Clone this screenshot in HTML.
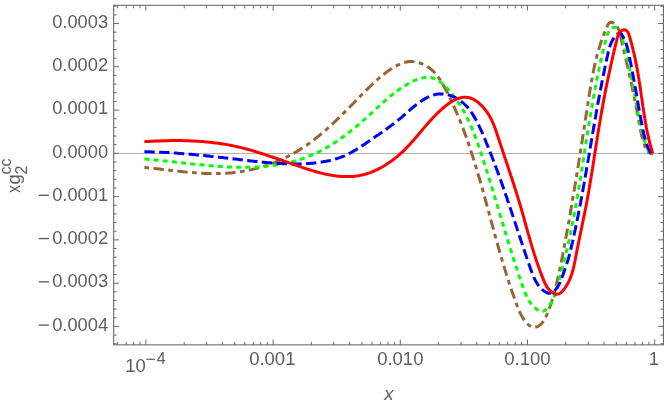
<!DOCTYPE html>
<html><head><meta charset="utf-8"><title>plot</title>
<style>html,body{margin:0;padding:0;background:#fff;overflow:hidden}svg{display:block}text{font-family:"Liberation Sans",sans-serif;fill:#5e5e5e}</style></head><body>
<svg width="664" height="407" viewBox="0 0 664 407">
<rect width="664" height="407" fill="#fff"/>
<line x1="113.65" y1="153.44" x2="663.45" y2="153.44" stroke="#8c8c8c" stroke-width="0.72"/>
<clipPath id="c"><rect x="113.65" y="5.3" width="549.8000000000001" height="339.55"/></clipPath>
<g clip-path="url(#c)" fill="none" stroke-width="3" stroke-linejoin="round">
<path d="M144.4 167.4L145.9 167.5L147.4 167.7L148.8 167.9L150.3 168.0L151.8 168.2L153.3 168.3L154.8 168.5L156.3 168.7L157.8 168.8L159.3 169.0L160.8 169.2L162.3 169.4L163.7 169.6L165.2 169.7L166.7 169.9L168.2 170.1L169.7 170.3L171.2 170.4L172.7 170.6L174.2 170.8L175.7 171.0L177.2 171.1L178.7 171.3L180.2 171.4L181.7 171.6L183.2 171.8L184.7 171.9L186.2 172.1L187.8 172.2L189.3 172.3L190.8 172.5L192.3 172.6L193.8 172.7L195.3 172.8L196.8 173.0L198.3 173.1L199.8 173.1L201.3 173.2L202.8 173.3L204.3 173.4L205.8 173.4L207.3 173.5L208.8 173.5L210.3 173.6L211.8 173.6L213.3 173.6L214.8 173.6L216.3 173.6L217.8 173.6L219.3 173.6L220.8 173.5L222.3 173.5L223.8 173.4L225.3 173.3L226.8 173.2L228.3 173.1L229.8 173.0L231.3 172.9L232.8 172.7L234.3 172.5L235.8 172.4L237.3 172.2L238.7 172.0L240.2 171.7L241.7 171.5L243.2 171.3L244.7 171.0L246.2 170.7L247.6 170.4L249.1 170.1L250.6 169.8L252.0 169.5L253.5 169.1L255.0 168.8L256.4 168.4L257.9 168.0L259.3 167.6L260.8 167.2L262.2 166.7L263.7 166.3L265.1 165.8L266.5 165.4L267.9 164.9L269.4 164.4L270.8 163.9L272.2 163.3L273.6 162.8L275.0 162.3L276.4 161.7L277.8 161.1L279.2 160.5L280.5 159.9L281.9 159.3L283.3 158.7L284.6 158.0L286.0 157.4L287.3 156.7L288.7 156.0L290.0 155.3L291.3 154.6L292.6 153.9L293.9 153.2L295.2 152.4L296.5 151.7L297.8 150.9L299.1 150.1L300.4 149.3L301.6 148.5L302.9 147.7L304.1 146.8L305.4 146.0L306.6 145.2L307.8 144.3L309.0 143.4L310.3 142.5L311.5 141.6L312.7 140.7L313.9 139.8L315.0 138.9L316.2 138.0L317.4 137.0L318.6 136.1L319.7 135.1L320.9 134.2L322.0 133.2L323.2 132.2L324.3 131.2L325.5 130.3L326.6 129.3L327.7 128.3L328.8 127.2L330.0 126.2L331.1 125.2L332.2 124.2L333.3 123.2L334.4 122.1L335.5 121.1L336.6 120.0L337.7 119.0L338.8 117.9L339.8 116.9L340.9 115.8L342.0 114.8L343.1 113.7L344.1 112.6L345.2 111.6L346.3 110.5L347.3 109.4L348.4 108.4L349.5 107.3L350.5 106.2L351.6 105.1L352.6 104.1L353.7 103.0L354.7 101.9L355.8 100.9L356.8 99.8L357.9 98.7L358.9 97.6L360.0 96.6L361.0 95.5L362.0 94.4L363.1 93.4L364.1 92.3L365.2 91.3L366.2 90.2L367.3 89.2L368.3 88.1L369.4 87.1L370.4 86.0L371.5 85.0L372.6 84.0L373.7 83.0L374.8 82.0L375.9 81.0L377.0 80.0L378.1 79.0L379.2 78.0L380.4 77.0L381.6 76.1L382.7 75.1L383.9 74.2L385.1 73.2L386.4 72.3L387.6 71.4L388.8 70.5L390.1 69.6L391.4 68.8L392.7 67.9L394.1 67.1L395.4 66.4L396.7 65.6L398.1 64.9L399.5 64.3L400.9 63.7L402.3 63.2L403.7 62.7L405.1 62.3L406.6 62.0L408.0 61.8L409.5 61.6L410.9 61.6L412.4 61.6L413.9 61.7L415.3 61.9L416.8 62.2L418.3 62.5L419.7 63.0L421.1 63.5L422.5 64.0L423.9 64.7L425.3 65.3L426.6 66.1L427.9 66.9L429.1 67.8L430.3 68.7L431.5 69.6L432.6 70.6L433.7 71.6L434.7 72.7L435.7 73.8L436.7 75.0L437.6 76.1L438.5 77.3L439.3 78.6L440.1 79.8L440.9 81.1L441.7 82.4L442.5 83.7L443.2 85.0L444.0 86.3L444.7 87.7L445.4 89.0L446.1 90.3L446.8 91.7L447.5 93.0L448.2 94.4L448.9 95.7L449.5 97.1L450.2 98.4L450.8 99.8L451.5 101.1L452.1 102.5L452.8 103.9L453.4 105.2L454.0 106.6L454.6 108.0L455.2 109.4L455.8 110.7L456.4 112.1L457.0 113.5L457.6 114.9L458.2 116.3L458.8 117.7L459.3 119.0L459.9 120.4L460.5 121.8L461.0 123.2L461.6 124.6L462.1 126.0L462.6 127.4L463.2 128.8L463.7 130.2L464.2 131.6L464.7 133.1L465.3 134.5L465.8 135.9L466.3 137.3L466.8 138.7L467.3 140.1L467.8 141.5L468.3 143.0L468.7 144.4L469.2 145.8L469.7 147.2L470.2 148.7L470.6 150.1L471.1 151.5L471.6 152.9L472.0 154.4L472.5 155.8L473.0 157.2L473.4 158.7L473.9 160.1L474.3 161.5L474.8 163.0L475.2 164.4L475.6 165.8L476.1 167.3L476.5 168.7L476.9 170.2L477.4 171.6L477.8 173.0L478.2 174.5L478.6 175.9L479.1 177.4L479.5 178.8L479.9 180.3L480.3 181.7L480.7 183.1L481.1 184.6L481.6 186.0L482.0 187.5L482.4 188.9L482.8 190.4L483.2 191.8L483.6 193.3L484.0 194.7L484.4 196.2L484.8 197.6L485.2 199.1L485.6 200.5L486.0 202.0L486.4 203.4L486.8 204.9L487.2 206.4L487.6 207.8L488.0 209.3L488.4 210.7L488.8 212.2L489.2 213.6L489.5 215.1L489.9 216.5L490.3 218.0L490.7 219.4L491.1 220.9L491.5 222.3L491.9 223.8L492.3 225.2L492.7 226.7L493.1 228.1L493.5 229.6L493.9 231.0L494.3 232.5L494.7 233.9L495.1 235.4L495.5 236.9L495.9 238.3L496.3 239.8L496.7 241.2L497.1 242.6L497.5 244.1L497.9 245.5L498.3 247.0L498.7 248.4L499.1 249.9L499.5 251.3L500.0 252.8L500.4 254.2L500.8 255.7L501.2 257.1L501.6 258.5L502.0 260.0L502.5 261.4L502.9 262.9L503.3 264.3L503.8 265.7L504.2 267.2L504.6 268.6L505.1 270.1L505.5 271.5L506.0 272.9L506.4 274.4L506.9 275.8L507.3 277.2L507.8 278.6L508.2 280.1L508.7 281.5L509.1 282.9L509.6 284.3L510.1 285.8L510.6 287.2L511.0 288.6L511.5 290.0L512.0 291.5L512.5 292.9L513.0 294.3L513.5 295.7L514.0 297.1L514.5 298.5L515.0 299.9L515.5 301.3L516.0 302.7L516.5 304.1L517.1 305.6L517.6 307.0L518.1 308.3L518.7 309.7L519.3 311.1L519.9 312.5L520.6 313.9L521.3 315.2L522.0 316.5L522.8 317.9L523.6 319.2L524.6 320.5L525.5 321.7L526.6 322.9L527.7 324.1L528.9 325.1L530.1 326.0L531.3 326.7L532.6 327.1L534.0 327.3L535.3 327.2L536.7 326.8L538.0 326.3L539.3 325.5L540.5 324.6L541.6 323.5L542.6 322.3L543.5 321.1L544.3 319.8L545.0 318.4L545.7 317.1L546.4 315.7L547.0 314.3L547.6 312.9L548.2 311.5L548.7 310.1L549.3 308.6L549.8 307.2L550.3 305.8L550.8 304.4L551.3 303.0L551.7 301.5L552.2 300.1L552.6 298.7L553.0 297.2L553.4 295.8L553.8 294.4L554.2 292.9L554.6 291.5L555.0 290.0L555.4 288.6L555.7 287.1L556.1 285.7L556.4 284.2L556.8 282.7L557.1 281.3L557.4 279.8L557.8 278.4L558.1 276.9L558.4 275.4L558.7 274.0L559.1 272.5L559.4 271.0L559.7 269.5L560.0 268.1L560.3 266.6L560.6 265.1L560.9 263.6L561.2 262.2L561.5 260.7L561.8 259.2L562.1 257.7L562.4 256.2L562.7 254.8L562.9 253.3L563.2 251.8L563.5 250.3L563.8 248.9L564.1 247.4L564.4 245.9L564.6 244.4L564.9 242.9L565.2 241.5L565.5 240.0L565.7 238.5L566.0 237.0L566.3 235.5L566.6 234.1L566.8 232.6L567.1 231.1L567.4 229.6L567.6 228.1L567.9 226.7L568.2 225.2L568.4 223.7L568.7 222.2L569.0 220.7L569.2 219.3L569.5 217.8L569.7 216.3L570.0 214.8L570.3 213.4L570.5 211.9L570.8 210.4L571.0 208.9L571.3 207.4L571.5 206.0L571.8 204.5L572.0 203.0L572.3 201.5L572.5 200.0L572.8 198.6L573.0 197.1L573.3 195.6L573.5 194.1L573.8 192.6L574.0 191.1L574.3 189.7L574.5 188.2L574.8 186.7L575.0 185.2L575.3 183.7L575.5 182.3L575.8 180.8L576.0 179.3L576.2 177.8L576.5 176.3L576.7 174.9L577.0 173.4L577.2 171.9L577.4 170.4L577.7 168.9L577.9 167.4L578.2 166.0L578.4 164.5L578.6 163.0L578.9 161.5L579.1 160.0L579.3 158.5L579.6 157.1L579.8 155.6L580.0 154.1L580.3 152.6L580.5 151.1L580.7 149.6L581.0 148.2L581.2 146.7L581.4 145.2L581.7 143.7L581.9 142.2L582.1 140.7L582.4 139.2L582.6 137.8L582.8 136.3L583.1 134.8L583.3 133.3L583.5 131.8L583.8 130.3L584.0 128.8L584.2 127.4L584.5 125.9L584.7 124.4L584.9 122.9L585.1 121.4L585.4 119.9L585.6 118.4L585.8 116.9L586.1 115.4L586.3 114.0L586.5 112.5L586.8 111.0L587.0 109.5L587.2 108.0L587.4 106.5L587.7 105.0L587.9 103.5L588.1 102.0L588.4 100.5L588.6 99.0L588.8 97.6L589.1 96.1L589.3 94.6L589.5 93.1L589.8 91.6L590.0 90.1L590.3 88.6L590.5 87.1L590.8 85.6L591.0 84.1L591.3 82.7L591.5 81.2L591.8 79.7L592.1 78.2L592.3 76.7L592.6 75.3L592.9 73.8L593.2 72.3L593.5 70.8L593.8 69.3L594.1 67.9L594.4 66.4L594.7 64.9L595.1 63.5L595.4 62.0L595.8 60.5L596.1 59.1L596.5 57.6L596.8 56.2L597.2 54.7L597.6 53.3L598.0 51.8L598.4 50.4L598.8 49.0L599.3 47.5L599.7 46.1L600.2 44.7L600.6 43.2L601.1 41.8L601.6 40.4L602.1 39.0L602.6 37.6L603.1 36.2L603.6 34.8L604.2 33.4L604.7 32.0L605.3 30.6L605.9 29.2L606.5 27.8L607.1 26.4L607.7 25.1L608.4 23.9L609.2 23.0L610.1 22.4L611.2 22.2L612.4 22.5L613.7 23.2L614.9 24.2L616.1 25.4L617.0 26.6L617.9 28.0L618.6 29.4L619.2 30.9L619.7 32.5L620.1 34.1L620.5 35.7L620.8 37.3L621.1 38.8L621.5 40.4L621.8 41.9L622.1 43.4L622.4 44.9L622.8 46.3L623.1 47.8L623.5 49.2L623.8 50.6L624.2 52.0L624.5 53.4L624.9 54.9L625.2 56.3L625.5 57.7L625.9 59.2L626.2 60.6L626.6 62.0L626.9 63.5L627.2 64.9L627.6 66.4L627.9 67.8L628.2 69.3L628.6 70.8L628.9 72.2L629.2 73.7L629.5 75.2L629.9 76.6L630.2 78.1L630.5 79.6L630.8 81.0L631.1 82.5L631.5 84.0L631.8 85.5L632.1 87.0L632.4 88.4L632.7 89.9L633.0 91.4L633.3 92.9L633.6 94.4L633.9 95.9L634.2 97.3L634.5 98.8L634.8 100.3L635.1 101.8L635.4 103.3L635.7 104.8L636.0 106.2L636.3 107.7L636.6 109.2L636.9 110.7L637.1 112.2L637.4 113.7L637.7 115.1L638.0 116.6L638.2 118.1L638.5 119.6L638.8 121.0L639.0 122.5L639.3 124.0L639.6 125.4L639.9 126.9L640.1 128.4L640.4 129.8L640.7 131.3L641.1 132.8L641.4 134.2L641.7 135.7L642.1 137.1L642.5 138.6L642.9 140.0L643.3 141.5L643.8 142.9L644.3 144.4L644.8 145.8L645.3 147.2L646.0 148.6L646.7 149.9L647.5 151.1L648.5 152.1L649.7 153.0L651.1 153.6L652.7 154.0" stroke="#996633" stroke-dasharray="4.7 4.45 10.4 4.45"/>
<path d="M144.4 159.0L145.9 159.1L147.3 159.2L148.8 159.4L150.2 159.5L151.7 159.6L153.2 159.7L154.6 159.9L156.1 160.0L157.6 160.2L159.0 160.3L160.5 160.5L162.0 160.6L163.5 160.8L165.0 160.9L166.5 161.1L167.9 161.2L169.4 161.4L170.9 161.6L172.4 161.7L173.9 161.9L175.4 162.1L176.9 162.2L178.4 162.4L179.9 162.6L181.4 162.7L182.9 162.9L184.4 163.1L185.9 163.2L187.5 163.4L189.0 163.6L190.5 163.7L192.0 163.9L193.5 164.1L195.0 164.2L196.5 164.4L198.0 164.5L199.6 164.7L201.1 164.8L202.6 165.0L204.1 165.1L205.6 165.3L207.1 165.4L208.7 165.6L210.2 165.7L211.7 165.8L213.2 165.9L214.7 166.1L216.3 166.2L217.8 166.3L219.3 166.4L220.8 166.5L222.3 166.6L223.9 166.7L225.4 166.8L226.9 166.9L228.4 166.9L229.9 167.0L231.4 167.1L232.9 167.1L234.5 167.2L236.0 167.2L237.5 167.2L239.0 167.3L240.5 167.3L242.0 167.3L243.5 167.3L245.0 167.3L246.5 167.3L248.0 167.3L249.5 167.2L251.0 167.2L252.5 167.2L254.0 167.1L255.5 167.0L257.0 167.0L258.5 166.9L260.0 166.8L261.5 166.7L263.0 166.6L264.4 166.4L265.9 166.3L267.4 166.1L268.9 166.0L270.3 165.8L271.8 165.6L273.3 165.4L274.7 165.2L276.2 165.0L277.7 164.8L279.1 164.5L280.6 164.3L282.0 164.0L283.5 163.7L284.9 163.5L286.4 163.1L287.8 162.8L289.2 162.5L290.7 162.1L292.1 161.8L293.5 161.4L294.9 161.0L296.4 160.6L297.8 160.2L299.2 159.7L300.6 159.3L302.0 158.8L303.4 158.3L304.8 157.8L306.2 157.3L307.6 156.8L308.9 156.2L310.3 155.7L311.7 155.1L313.1 154.5L314.4 153.9L315.8 153.2L317.1 152.6L318.5 151.9L319.8 151.3L321.2 150.6L322.5 149.9L323.8 149.1L325.2 148.4L326.5 147.6L327.8 146.9L329.1 146.1L330.4 145.3L331.7 144.5L333.0 143.7L334.3 142.9L335.6 142.0L336.9 141.2L338.1 140.3L339.4 139.5L340.7 138.6L341.9 137.7L343.2 136.8L344.4 135.9L345.6 135.0L346.9 134.1L348.1 133.1L349.3 132.2L350.5 131.3L351.7 130.3L352.9 129.4L354.1 128.4L355.3 127.4L356.4 126.5L357.6 125.5L358.7 124.5L359.9 123.5L361.0 122.5L362.2 121.5L363.3 120.5L364.4 119.5L365.5 118.5L366.7 117.5L367.7 116.5L368.8 115.5L369.9 114.5L371.0 113.5L372.1 112.5L373.2 111.5L374.2 110.5L375.3 109.5L376.4 108.5L377.5 107.5L378.5 106.5L379.6 105.5L380.7 104.5L381.8 103.5L382.9 102.5L384.0 101.6L385.1 100.6L386.2 99.6L387.3 98.7L388.4 97.7L389.6 96.8L390.7 95.8L391.9 94.9L393.0 94.0L394.2 93.0L395.4 92.1L396.6 91.2L397.9 90.4L399.1 89.5L400.3 88.6L401.6 87.8L402.9 86.9L404.2 86.1L405.6 85.3L406.9 84.5L408.3 83.7L409.7 82.9L411.1 82.2L412.5 81.5L413.9 80.8L415.4 80.2L416.8 79.6L418.3 79.1L419.7 78.6L421.2 78.2L422.6 77.9L424.0 77.6L425.5 77.4L426.9 77.3L428.3 77.3L429.7 77.4L431.0 77.6L432.4 78.0L433.7 78.4L435.0 78.9L436.3 79.5L437.5 80.1L438.8 80.9L440.0 81.7L441.2 82.6L442.3 83.6L443.5 84.6L444.6 85.6L445.7 86.7L446.8 87.8L447.9 88.9L448.9 90.1L450.0 91.3L451.0 92.5L452.0 93.7L452.9 94.9L453.9 96.1L454.8 97.3L455.7 98.5L456.6 99.8L457.4 101.0L458.3 102.3L459.1 103.5L459.9 104.8L460.7 106.1L461.5 107.4L462.3 108.7L463.0 110.0L463.8 111.3L464.5 112.6L465.2 113.9L465.9 115.3L466.6 116.6L467.2 117.9L467.9 119.3L468.5 120.6L469.2 122.0L469.8 123.4L470.4 124.7L471.0 126.1L471.6 127.5L472.1 128.9L472.7 130.2L473.3 131.6L473.8 133.0L474.4 134.4L474.9 135.8L475.4 137.2L476.0 138.6L476.5 140.0L477.0 141.4L477.5 142.9L478.0 144.3L478.5 145.7L479.0 147.1L479.5 148.5L479.9 150.0L480.4 151.4L480.9 152.8L481.4 154.2L481.8 155.6L482.3 157.1L482.8 158.5L483.2 159.9L483.7 161.4L484.2 162.8L484.6 164.2L485.1 165.6L485.5 167.1L486.0 168.5L486.5 169.9L486.9 171.4L487.4 172.8L487.8 174.2L488.3 175.7L488.7 177.1L489.1 178.5L489.6 180.0L490.0 181.4L490.5 182.8L490.9 184.3L491.4 185.7L491.8 187.1L492.2 188.6L492.7 190.0L493.1 191.4L493.5 192.9L494.0 194.3L494.4 195.8L494.8 197.2L495.3 198.6L495.7 200.1L496.1 201.5L496.6 202.9L497.0 204.4L497.4 205.8L497.9 207.3L498.3 208.7L498.7 210.1L499.2 211.6L499.6 213.0L500.0 214.5L500.4 215.9L500.9 217.3L501.3 218.8L501.7 220.2L502.2 221.6L502.6 223.1L503.0 224.5L503.5 226.0L503.9 227.4L504.3 228.8L504.8 230.3L505.2 231.7L505.6 233.2L506.1 234.6L506.5 236.0L506.9 237.5L507.4 238.9L507.8 240.4L508.3 241.8L508.7 243.2L509.1 244.7L509.6 246.1L510.0 247.5L510.5 249.0L510.9 250.4L511.4 251.8L511.8 253.3L512.3 254.7L512.7 256.1L513.2 257.6L513.6 259.0L514.1 260.4L514.5 261.9L515.0 263.3L515.5 264.7L515.9 266.2L516.4 267.6L516.9 269.0L517.3 270.5L517.8 271.9L518.3 273.3L518.7 274.8L519.2 276.2L519.7 277.6L520.2 279.0L520.7 280.5L521.2 281.9L521.6 283.3L522.1 284.7L522.6 286.2L523.1 287.6L523.6 289.0L524.2 290.4L524.7 291.8L525.2 293.2L525.8 294.6L526.4 295.9L527.1 297.3L527.8 298.6L528.5 299.9L529.3 301.2L530.1 302.4L531.0 303.6L531.9 304.8L532.9 305.9L534.0 307.0L535.2 308.0L536.4 309.0L537.7 309.9L539.1 310.7L540.4 311.2L541.8 311.4L543.1 311.3L544.4 310.7L545.6 309.9L546.7 308.8L547.8 307.6L548.8 306.4L549.7 305.1L550.5 303.8L551.3 302.5L552.1 301.2L552.7 299.9L553.4 298.5L554.0 297.1L554.5 295.7L555.0 294.3L555.5 292.9L556.0 291.5L556.4 290.0L556.9 288.6L557.3 287.2L557.7 285.7L558.1 284.3L558.5 282.8L558.8 281.3L559.2 279.9L559.6 278.4L560.0 277.0L560.4 275.5L560.8 274.1L561.2 272.6L561.5 271.2L561.9 269.7L562.3 268.3L562.7 266.8L563.0 265.4L563.4 263.9L563.8 262.5L564.2 261.0L564.5 259.5L564.9 258.1L565.2 256.6L565.6 255.2L565.9 253.7L566.3 252.3L566.6 250.8L567.0 249.3L567.3 247.9L567.7 246.4L568.0 245.0L568.3 243.5L568.6 242.0L569.0 240.6L569.3 239.1L569.6 237.6L569.9 236.2L570.2 234.7L570.5 233.2L570.8 231.8L571.1 230.3L571.4 228.8L571.7 227.3L572.0 225.9L572.3 224.4L572.6 222.9L572.9 221.5L573.2 220.0L573.5 218.5L573.8 217.0L574.0 215.6L574.3 214.1L574.6 212.6L574.9 211.1L575.1 209.6L575.4 208.2L575.7 206.7L575.9 205.2L576.2 203.7L576.4 202.2L576.7 200.8L577.0 199.3L577.2 197.8L577.5 196.3L577.7 194.8L578.0 193.4L578.2 191.9L578.5 190.4L578.7 188.9L579.0 187.4L579.2 185.9L579.5 184.5L579.7 183.0L579.9 181.5L580.2 180.0L580.4 178.5L580.7 177.0L580.9 175.6L581.1 174.1L581.4 172.6L581.6 171.1L581.8 169.6L582.1 168.1L582.3 166.6L582.5 165.2L582.8 163.7L583.0 162.2L583.2 160.7L583.5 159.2L583.7 157.7L583.9 156.2L584.1 154.8L584.4 153.3L584.6 151.8L584.8 150.3L585.1 148.8L585.3 147.3L585.5 145.8L585.8 144.4L586.0 142.9L586.2 141.4L586.5 139.9L586.7 138.4L586.9 136.9L587.2 135.4L587.4 134.0L587.6 132.5L587.9 131.0L588.1 129.5L588.3 128.0L588.6 126.5L588.8 125.1L589.0 123.6L589.3 122.1L589.5 120.6L589.8 119.1L590.0 117.6L590.3 116.2L590.5 114.7L590.8 113.2L591.0 111.7L591.2 110.2L591.5 108.8L591.8 107.3L592.0 105.8L592.3 104.3L592.5 102.9L592.8 101.4L593.0 99.9L593.3 98.4L593.6 97.0L593.8 95.5L594.1 94.0L594.4 92.5L594.6 91.1L594.9 89.6L595.2 88.1L595.5 86.6L595.8 85.2L596.0 83.7L596.3 82.2L596.6 80.7L596.9 79.3L597.2 77.8L597.5 76.3L597.8 74.9L598.1 73.4L598.4 71.9L598.7 70.5L599.0 69.0L599.3 67.5L599.6 66.0L600.0 64.6L600.3 63.1L600.6 61.6L600.9 60.1L601.3 58.7L601.6 57.2L601.9 55.7L602.3 54.3L602.6 52.8L603.0 51.3L603.3 49.8L603.7 48.4L604.0 46.9L604.4 45.4L604.8 43.9L605.1 42.4L605.5 41.0L605.9 39.5L606.3 38.0L606.7 36.6L607.2 35.1L607.7 33.8L608.3 32.4L609.1 31.2L609.9 30.1L611.0 29.0L612.2 28.1L613.5 27.4L614.9 27.1L616.2 27.5L617.4 28.3L618.5 29.4L619.4 30.7L620.1 32.1L620.7 33.6L621.3 35.1L621.8 36.5L622.2 38.0L622.7 39.4L623.0 40.9L623.4 42.3L623.8 43.8L624.2 45.2L624.6 46.7L624.9 48.1L625.3 49.6L625.6 51.0L626.0 52.5L626.3 53.9L626.7 55.4L627.0 56.8L627.3 58.3L627.7 59.7L628.0 61.2L628.3 62.7L628.6 64.1L628.9 65.6L629.2 67.1L629.6 68.5L629.9 70.0L630.2 71.5L630.5 72.9L630.7 74.4L631.0 75.9L631.3 77.4L631.6 78.8L631.9 80.3L632.2 81.8L632.5 83.3L632.8 84.7L633.0 86.2L633.3 87.7L633.6 89.2L633.9 90.6L634.1 92.1L634.4 93.6L634.7 95.1L635.0 96.6L635.2 98.0L635.5 99.5L635.8 101.0L636.0 102.5L636.3 104.0L636.6 105.5L636.9 106.9L637.1 108.4L637.4 109.9L637.7 111.4L638.0 112.9L638.3 114.4L638.5 115.8L638.8 117.3L639.1 118.8L639.4 120.3L639.7 121.8L640.0 123.2L640.3 124.7L640.6 126.2L640.9 127.7L641.2 129.1L641.6 130.6L641.9 132.0L642.3 133.5L642.7 134.9L643.1 136.4L643.5 137.8L643.9 139.2L644.4 140.7L644.9 142.1L645.4 143.5L645.9 144.9L646.4 146.2L647.0 147.6L647.6 149.0L648.2 150.3L648.9 151.6L649.7 152.8L650.9 153.7L652.7 154.0" stroke="#00ff00" stroke-dasharray="5 4.22"/>
<path d="M144.4 151.7L145.9 151.7L147.4 151.8L148.9 151.8L150.4 151.8L151.9 151.9L153.4 151.9L154.9 152.0L156.4 152.0L157.9 152.1L159.4 152.2L160.9 152.2L162.4 152.3L163.9 152.4L165.4 152.5L166.9 152.6L168.4 152.6L169.9 152.7L171.4 152.8L172.9 152.9L174.4 153.0L175.9 153.1L177.4 153.2L178.9 153.4L180.4 153.5L181.9 153.6L183.4 153.7L184.9 153.8L186.4 153.9L187.9 154.1L189.4 154.2L190.9 154.3L192.4 154.5L193.9 154.6L195.4 154.8L196.9 154.9L198.4 155.0L199.9 155.2L201.4 155.3L202.9 155.5L204.4 155.6L205.9 155.8L207.4 155.9L208.9 156.1L210.4 156.3L211.9 156.4L213.4 156.6L214.9 156.7L216.4 156.9L217.9 157.1L219.4 157.2L220.9 157.4L222.4 157.6L223.9 157.8L225.4 157.9L226.9 158.1L228.4 158.3L229.9 158.4L231.4 158.6L232.9 158.8L234.4 159.0L235.9 159.1L237.4 159.3L238.8 159.5L240.3 159.7L241.8 159.8L243.3 160.0L244.8 160.2L246.3 160.4L247.8 160.5L249.3 160.7L250.8 160.9L252.3 161.1L253.8 161.2L255.3 161.4L256.8 161.5L258.3 161.7L259.7 161.9L261.2 162.0L262.7 162.2L264.2 162.3L265.7 162.4L267.2 162.6L268.7 162.7L270.2 162.8L271.7 163.0L273.2 163.1L274.7 163.2L276.2 163.3L277.7 163.4L279.2 163.5L280.7 163.6L282.2 163.6L283.7 163.7L285.2 163.8L286.7 163.8L288.2 163.8L289.7 163.9L291.2 163.9L292.7 163.9L294.2 163.9L295.7 163.9L297.2 163.9L298.7 163.9L300.2 163.9L301.7 163.8L303.2 163.8L304.7 163.7L306.3 163.6L307.8 163.5L309.3 163.4L310.8 163.3L312.3 163.2L313.8 163.0L315.3 162.9L316.9 162.7L318.4 162.5L319.9 162.3L321.4 162.1L322.9 161.8L324.4 161.6L325.9 161.3L327.4 161.0L328.8 160.7L330.3 160.4L331.8 160.0L333.2 159.6L334.7 159.2L336.1 158.8L337.5 158.4L339.0 157.9L340.4 157.4L341.7 156.9L343.1 156.3L344.5 155.8L345.9 155.2L347.2 154.5L348.5 153.9L349.8 153.2L351.1 152.5L352.4 151.8L353.7 151.1L355.0 150.3L356.3 149.6L357.5 148.8L358.8 148.0L360.1 147.2L361.3 146.4L362.5 145.5L363.8 144.7L365.0 143.9L366.3 143.0L367.5 142.2L368.8 141.3L370.0 140.4L371.3 139.6L372.5 138.7L373.8 137.9L375.0 137.0L376.3 136.1L377.5 135.3L378.8 134.4L380.0 133.5L381.3 132.7L382.5 131.8L383.8 130.9L385.0 130.1L386.2 129.2L387.5 128.3L388.7 127.4L389.9 126.5L391.1 125.6L392.3 124.7L393.5 123.8L394.7 122.9L395.8 122.0L397.0 121.1L398.1 120.2L399.3 119.2L400.4 118.3L401.5 117.3L402.6 116.4L403.7 115.4L404.8 114.5L405.9 113.5L407.0 112.6L408.1 111.6L409.2 110.6L410.3 109.6L411.4 108.7L412.6 107.7L413.7 106.7L414.9 105.8L416.1 104.8L417.4 103.9L418.6 102.9L419.9 102.0L421.2 101.1L422.5 100.2L423.9 99.4L425.2 98.6L426.6 97.9L428.0 97.2L429.4 96.5L430.8 95.9L432.2 95.4L433.6 95.0L435.1 94.6L436.5 94.3L438.0 94.1L439.5 94.0L441.0 93.9L442.5 94.0L444.0 94.1L445.4 94.3L446.9 94.6L448.4 94.9L449.8 95.4L451.2 95.8L452.6 96.4L454.0 97.0L455.3 97.6L456.6 98.3L457.9 99.1L459.1 99.9L460.3 100.7L461.5 101.6L462.6 102.5L463.7 103.5L464.8 104.5L465.8 105.5L466.8 106.5L467.8 107.6L468.7 108.8L469.6 109.9L470.5 111.1L471.4 112.3L472.2 113.5L473.0 114.8L473.8 116.1L474.6 117.4L475.3 118.7L476.1 120.0L476.8 121.3L477.5 122.7L478.2 124.1L478.9 125.5L479.5 126.9L480.2 128.3L480.8 129.7L481.5 131.1L482.1 132.5L482.7 133.9L483.3 135.4L483.9 136.8L484.5 138.2L485.1 139.6L485.7 141.1L486.2 142.5L486.8 143.9L487.4 145.3L488.0 146.7L488.5 148.1L489.1 149.5L489.7 150.9L490.2 152.4L490.8 153.8L491.3 155.2L491.9 156.6L492.4 158.0L493.0 159.4L493.5 160.8L494.0 162.2L494.6 163.6L495.1 165.0L495.6 166.4L496.1 167.8L496.6 169.2L497.2 170.6L497.7 172.0L498.2 173.4L498.7 174.7L499.2 176.1L499.7 177.5L500.2 178.9L500.7 180.3L501.2 181.7L501.7 183.1L502.2 184.5L502.7 185.9L503.2 187.3L503.7 188.7L504.2 190.1L504.6 191.6L505.1 193.0L505.6 194.4L506.1 195.8L506.6 197.2L507.1 198.6L507.5 200.0L508.0 201.4L508.5 202.8L509.0 204.3L509.5 205.7L509.9 207.1L510.4 208.5L510.9 209.9L511.4 211.4L511.8 212.8L512.3 214.2L512.8 215.7L513.3 217.1L513.7 218.5L514.2 219.9L514.7 221.4L515.1 222.8L515.6 224.2L516.1 225.7L516.6 227.1L517.0 228.5L517.5 230.0L518.0 231.4L518.4 232.9L518.9 234.3L519.4 235.7L519.9 237.2L520.3 238.6L520.8 240.0L521.3 241.5L521.8 242.9L522.3 244.4L522.7 245.8L523.2 247.2L523.7 248.7L524.2 250.1L524.7 251.6L525.1 253.0L525.6 254.4L526.1 255.9L526.6 257.3L527.1 258.7L527.6 260.2L528.1 261.6L528.6 263.0L529.1 264.5L529.6 265.9L530.0 267.3L530.5 268.8L531.1 270.2L531.6 271.6L532.1 273.0L532.6 274.4L533.2 275.8L533.8 277.2L534.4 278.5L535.1 279.9L535.8 281.2L536.5 282.4L537.3 283.7L538.1 284.9L539.0 286.1L540.0 287.2L541.0 288.3L542.1 289.4L543.2 290.4L544.5 291.4L545.8 292.2L547.1 292.8L548.4 293.2L549.8 293.3L551.1 293.1L552.4 292.4L553.6 291.5L554.8 290.4L555.8 289.3L556.8 288.1L557.7 286.8L558.5 285.5L559.2 284.1L559.9 282.8L560.5 281.4L561.1 280.0L561.6 278.5L562.2 277.1L562.7 275.6L563.2 274.2L563.7 272.8L564.2 271.3L564.7 269.9L565.2 268.5L565.7 267.1L566.1 265.7L566.6 264.3L567.1 262.8L567.5 261.4L568.0 260.0L568.4 258.6L568.8 257.1L569.2 255.7L569.6 254.2L569.9 252.8L570.3 251.3L570.7 249.9L571.0 248.4L571.3 246.9L571.7 245.5L572.0 244.0L572.4 242.6L572.7 241.1L573.0 239.6L573.3 238.2L573.7 236.7L574.0 235.2L574.3 233.7L574.6 232.3L574.9 230.8L575.3 229.3L575.6 227.9L575.9 226.4L576.2 224.9L576.5 223.4L576.8 222.0L577.1 220.5L577.4 219.0L577.7 217.5L578.0 216.1L578.3 214.6L578.6 213.1L578.8 211.6L579.1 210.2L579.4 208.7L579.7 207.2L580.0 205.7L580.3 204.2L580.6 202.8L580.8 201.3L581.1 199.8L581.4 198.3L581.7 196.8L581.9 195.4L582.2 193.9L582.5 192.4L582.7 190.9L583.0 189.4L583.3 187.9L583.5 186.5L583.8 185.0L584.1 183.5L584.3 182.0L584.6 180.5L584.9 179.0L585.1 177.5L585.4 176.1L585.6 174.6L585.9 173.1L586.2 171.6L586.4 170.1L586.7 168.6L586.9 167.2L587.2 165.7L587.4 164.2L587.7 162.7L587.9 161.2L588.2 159.7L588.5 158.2L588.7 156.8L589.0 155.3L589.2 153.8L589.5 152.3L589.7 150.8L590.0 149.3L590.2 147.9L590.5 146.4L590.7 144.9L591.0 143.4L591.2 141.9L591.5 140.4L591.7 139.0L592.0 137.5L592.2 136.0L592.5 134.5L592.7 133.0L593.0 131.5L593.3 130.1L593.5 128.6L593.8 127.1L594.0 125.6L594.3 124.1L594.5 122.7L594.8 121.2L595.0 119.7L595.3 118.2L595.6 116.8L595.8 115.3L596.1 113.8L596.3 112.3L596.6 110.9L596.9 109.4L597.1 107.9L597.4 106.4L597.7 105.0L597.9 103.5L598.2 102.0L598.5 100.5L598.8 99.1L599.0 97.6L599.3 96.1L599.6 94.7L599.8 93.2L600.1 91.7L600.4 90.3L600.7 88.8L601.0 87.3L601.3 85.9L601.5 84.4L601.8 82.9L602.1 81.5L602.4 80.0L602.7 78.5L603.0 77.0L603.3 75.6L603.6 74.1L603.9 72.6L604.2 71.1L604.5 69.6L604.8 68.1L605.1 66.6L605.4 65.2L605.7 63.7L606.1 62.2L606.4 60.7L606.7 59.1L607.0 57.6L607.4 56.1L607.7 54.6L608.0 53.1L608.4 51.6L608.8 50.1L609.2 48.6L609.6 47.2L610.1 45.7L610.6 44.3L611.2 42.9L611.8 41.6L612.5 40.3L613.2 39.0L614.0 37.8L614.8 36.6L615.8 35.5L616.8 34.5L617.8 33.8L618.9 33.3L619.9 33.4L620.9 33.9L621.9 34.9L622.8 36.3L623.6 37.8L624.4 39.3L625.0 40.8L625.6 42.3L626.2 43.7L626.6 45.2L627.1 46.7L627.5 48.2L627.8 49.6L628.2 51.1L628.5 52.6L628.8 54.0L629.1 55.5L629.4 57.0L629.7 58.4L630.0 59.9L630.3 61.4L630.6 62.8L630.9 64.3L631.2 65.8L631.5 67.3L631.8 68.7L632.1 70.2L632.3 71.7L632.6 73.2L632.9 74.6L633.2 76.1L633.4 77.6L633.7 79.1L634.0 80.5L634.2 82.0L634.5 83.5L634.8 85.0L635.0 86.5L635.3 87.9L635.6 89.4L635.8 90.9L636.1 92.4L636.3 93.9L636.6 95.3L636.9 96.8L637.1 98.3L637.4 99.8L637.6 101.3L637.9 102.7L638.2 104.2L638.4 105.7L638.7 107.2L639.0 108.7L639.2 110.2L639.5 111.6L639.8 113.1L640.0 114.6L640.3 116.1L640.6 117.6L640.8 119.1L641.1 120.5L641.4 122.0L641.7 123.5L642.0 125.0L642.2 126.5L642.5 127.9L642.9 129.4L643.2 130.9L643.5 132.4L643.8 133.8L644.2 135.3L644.6 136.7L644.9 138.2L645.4 139.6L645.8 141.1L646.2 142.5L646.7 143.9L647.2 145.4L647.7 146.8L648.2 148.2L648.8 149.6L649.5 150.9L650.3 152.1L651.4 153.1L652.7 154.0" stroke="#0000fa" stroke-dasharray="10.4 4.35"/>
<path d="M144.4 141.7L145.9 141.6L147.3 141.5L148.8 141.4L150.3 141.3L151.8 141.3L153.3 141.2L154.8 141.1L156.2 141.0L157.7 141.0L159.2 140.9L160.7 140.9L162.2 140.8L163.7 140.8L165.2 140.7L166.7 140.7L168.2 140.7L169.8 140.6L171.3 140.6L172.8 140.6L174.3 140.6L175.8 140.6L177.3 140.6L178.8 140.6L180.3 140.6L181.9 140.6L183.4 140.7L184.9 140.7L186.4 140.7L187.9 140.8L189.4 140.8L191.0 140.9L192.5 141.0L194.0 141.0L195.5 141.1L197.0 141.2L198.5 141.3L200.0 141.4L201.5 141.5L203.1 141.6L204.6 141.8L206.1 141.9L207.6 142.0L209.1 142.2L210.6 142.3L212.1 142.5L213.6 142.7L215.1 142.9L216.6 143.1L218.1 143.3L219.6 143.5L221.1 143.7L222.5 143.9L224.0 144.1L225.5 144.4L227.0 144.6L228.5 144.9L229.9 145.2L231.4 145.5L232.9 145.8L234.3 146.1L235.8 146.4L237.2 146.7L238.7 147.0L240.1 147.4L241.6 147.7L243.0 148.1L244.5 148.5L245.9 148.8L247.3 149.2L248.8 149.6L250.2 150.0L251.6 150.4L253.0 150.8L254.5 151.3L255.9 151.7L257.3 152.1L258.7 152.6L260.1 153.0L261.5 153.5L263.0 153.9L264.4 154.4L265.8 154.9L267.2 155.3L268.6 155.8L270.0 156.3L271.4 156.8L272.9 157.2L274.3 157.7L275.7 158.2L277.1 158.7L278.5 159.2L279.9 159.7L281.4 160.2L282.8 160.7L284.2 161.2L285.6 161.7L287.0 162.2L288.5 162.7L289.9 163.2L291.3 163.7L292.8 164.2L294.2 164.7L295.6 165.2L297.1 165.7L298.5 166.2L300.0 166.7L301.4 167.2L302.9 167.7L304.3 168.1L305.8 168.6L307.3 169.1L308.7 169.5L310.2 170.0L311.7 170.4L313.1 170.9L314.6 171.3L316.1 171.7L317.5 172.1L319.0 172.5L320.5 172.9L322.0 173.3L323.5 173.6L324.9 174.0L326.4 174.3L327.9 174.6L329.4 174.9L330.9 175.1L332.3 175.4L333.8 175.6L335.3 175.8L336.8 176.0L338.2 176.2L339.7 176.3L341.2 176.4L342.7 176.5L344.1 176.6L345.6 176.6L347.1 176.6L348.5 176.6L350.0 176.6L351.5 176.5L352.9 176.4L354.4 176.3L355.8 176.1L357.3 175.9L358.7 175.7L360.2 175.4L361.6 175.1L363.1 174.8L364.5 174.4L365.9 174.0L367.4 173.5L368.8 173.1L370.2 172.6L371.6 172.0L373.0 171.5L374.4 170.9L375.8 170.2L377.2 169.6L378.5 168.9L379.9 168.2L381.2 167.5L382.6 166.7L383.9 166.0L385.2 165.2L386.5 164.3L387.8 163.5L389.1 162.6L390.3 161.8L391.6 160.9L392.8 160.0L394.0 159.0L395.2 158.1L396.4 157.1L397.6 156.2L398.8 155.2L399.9 154.2L401.0 153.2L402.1 152.2L403.2 151.1L404.3 150.1L405.3 149.1L406.3 148.0L407.4 146.9L408.4 145.9L409.4 144.8L410.4 143.7L411.4 142.6L412.3 141.6L413.3 140.5L414.3 139.4L415.2 138.2L416.2 137.1L417.1 136.0L418.1 134.9L419.0 133.8L420.0 132.7L420.9 131.5L421.9 130.4L422.8 129.3L423.8 128.1L424.7 127.0L425.7 125.9L426.7 124.7L427.7 123.6L428.7 122.5L429.7 121.3L430.7 120.2L431.8 119.1L432.8 117.9L433.9 116.8L435.0 115.7L436.1 114.6L437.2 113.4L438.3 112.3L439.5 111.2L440.7 110.1L441.9 109.0L443.1 108.0L444.3 107.0L445.5 105.9L446.8 105.0L448.1 104.0L449.3 103.1L450.6 102.3L451.9 101.5L453.2 100.8L454.5 100.1L455.8 99.5L457.1 98.9L458.5 98.4L459.8 98.0L461.1 97.7L462.4 97.5L463.8 97.3L465.1 97.2L466.4 97.3L467.7 97.4L469.0 97.7L470.3 98.0L471.6 98.5L472.9 99.1L474.2 99.7L475.4 100.5L476.7 101.3L477.9 102.3L479.1 103.2L480.2 104.3L481.4 105.4L482.5 106.5L483.6 107.7L484.6 109.0L485.6 110.3L486.6 111.5L487.5 112.9L488.3 114.2L489.2 115.5L489.9 116.8L490.7 118.2L491.4 119.5L492.0 120.9L492.7 122.3L493.3 123.6L493.8 125.0L494.4 126.4L494.9 127.8L495.4 129.2L495.9 130.6L496.4 132.0L496.9 133.4L497.3 134.8L497.8 136.2L498.3 137.6L498.7 139.0L499.2 140.4L499.6 141.8L500.1 143.2L500.6 144.6L501.0 146.1L501.5 147.5L502.0 148.9L502.4 150.3L502.9 151.7L503.4 153.1L503.9 154.6L504.3 156.0L504.8 157.4L505.3 158.8L505.8 160.3L506.2 161.7L506.7 163.1L507.2 164.5L507.7 166.0L508.2 167.4L508.6 168.8L509.1 170.2L509.6 171.7L510.1 173.1L510.5 174.5L511.0 176.0L511.5 177.4L511.9 178.8L512.4 180.3L512.9 181.7L513.4 183.1L513.8 184.6L514.3 186.0L514.7 187.5L515.2 188.9L515.7 190.3L516.1 191.8L516.6 193.2L517.0 194.7L517.5 196.1L517.9 197.5L518.3 199.0L518.8 200.4L519.2 201.9L519.6 203.3L520.1 204.7L520.5 206.2L520.9 207.6L521.3 209.1L521.8 210.5L522.2 212.0L522.6 213.4L523.0 214.9L523.4 216.3L523.8 217.7L524.2 219.2L524.6 220.6L525.0 222.1L525.4 223.5L525.8 225.0L526.2 226.4L526.6 227.9L527.0 229.3L527.4 230.7L527.8 232.2L528.2 233.6L528.7 235.1L529.1 236.5L529.5 238.0L529.9 239.4L530.3 240.8L530.7 242.3L531.1 243.7L531.6 245.1L532.0 246.6L532.4 248.0L532.9 249.5L533.3 250.9L533.7 252.3L534.2 253.8L534.6 255.2L535.1 256.6L535.6 258.0L536.0 259.5L536.5 260.9L537.0 262.3L537.5 263.7L538.0 265.2L538.5 266.6L539.0 268.0L539.5 269.4L540.0 270.8L540.5 272.2L541.1 273.6L541.6 275.1L542.2 276.5L542.7 277.9L543.3 279.3L543.9 280.7L544.5 282.1L545.1 283.4L545.8 284.8L546.5 286.1L547.3 287.4L548.2 288.6L549.1 289.7L550.2 290.8L551.3 291.8L552.6 292.7L554.0 293.5L555.5 294.1L556.9 294.3L558.2 294.1L559.5 293.6L560.6 292.9L561.8 291.9L562.8 290.8L563.8 289.5L564.7 288.3L565.6 287.0L566.5 285.7L567.2 284.4L568.0 283.1L568.7 281.7L569.3 280.4L569.9 279.0L570.5 277.6L571.0 276.2L571.5 274.8L572.0 273.4L572.4 271.9L572.8 270.5L573.2 269.1L573.5 267.6L573.9 266.1L574.2 264.7L574.5 263.2L574.8 261.7L575.1 260.3L575.4 258.8L575.7 257.3L576.0 255.8L576.3 254.3L576.5 252.8L576.8 251.4L577.1 249.9L577.4 248.4L577.7 246.9L578.0 245.5L578.3 244.0L578.6 242.5L578.9 241.0L579.2 239.6L579.5 238.1L579.8 236.6L580.1 235.2L580.4 233.7L580.7 232.2L581.0 230.8L581.3 229.3L581.6 227.8L581.9 226.4L582.2 224.9L582.5 223.4L582.8 221.9L583.1 220.5L583.4 219.0L583.7 217.5L584.0 216.1L584.3 214.6L584.6 213.1L584.9 211.7L585.2 210.2L585.5 208.7L585.8 207.3L586.1 205.8L586.4 204.3L586.6 202.8L586.9 201.4L587.2 199.9L587.5 198.4L587.7 196.9L588.0 195.4L588.3 194.0L588.5 192.5L588.8 191.0L589.0 189.5L589.3 188.0L589.5 186.6L589.8 185.1L590.0 183.6L590.3 182.1L590.5 180.6L590.8 179.1L591.0 177.6L591.3 176.2L591.5 174.7L591.7 173.2L592.0 171.7L592.2 170.2L592.5 168.7L592.7 167.2L592.9 165.7L593.2 164.3L593.4 162.8L593.6 161.3L593.9 159.8L594.1 158.3L594.3 156.8L594.5 155.3L594.8 153.8L595.0 152.4L595.2 150.9L595.5 149.4L595.7 147.9L595.9 146.4L596.2 144.9L596.4 143.4L596.6 141.9L596.9 140.5L597.1 139.0L597.3 137.5L597.6 136.0L597.8 134.5L598.0 133.0L598.3 131.6L598.5 130.1L598.8 128.6L599.0 127.1L599.2 125.6L599.5 124.2L599.7 122.7L600.0 121.2L600.2 119.7L600.5 118.3L600.7 116.8L601.0 115.3L601.3 113.8L601.5 112.4L601.8 110.9L602.0 109.4L602.3 107.9L602.6 106.5L602.8 105.0L603.1 103.5L603.4 102.1L603.6 100.6L603.9 99.1L604.2 97.6L604.5 96.2L604.8 94.7L605.0 93.2L605.3 91.8L605.6 90.3L605.9 88.8L606.2 87.4L606.5 85.9L606.8 84.4L607.1 83.0L607.4 81.5L607.7 80.0L608.0 78.5L608.3 77.1L608.6 75.6L608.9 74.1L609.2 72.7L609.6 71.2L609.9 69.7L610.2 68.2L610.5 66.8L610.8 65.3L611.2 63.8L611.5 62.3L611.8 60.9L612.2 59.4L612.5 57.9L612.8 56.4L613.2 54.9L613.5 53.5L613.9 52.0L614.2 50.5L614.6 49.0L614.9 47.5L615.3 46.0L615.6 44.5L616.0 43.1L616.4 41.6L616.7 40.1L617.1 38.6L617.5 37.1L617.9 35.7L618.5 34.3L619.1 33.1L619.9 31.9L620.9 31.0L622.2 30.3L623.6 29.8L625.0 29.8L626.4 30.5L627.4 31.5L628.2 32.7L628.7 34.1L629.2 35.5L629.7 37.0L630.1 38.5L630.5 40.0L630.9 41.5L631.4 42.9L631.8 44.4L632.1 45.9L632.5 47.4L632.9 48.8L633.2 50.3L633.6 51.8L633.9 53.3L634.3 54.7L634.6 56.2L634.9 57.7L635.2 59.1L635.5 60.6L635.8 62.1L636.1 63.5L636.4 65.0L636.7 66.5L637.0 68.0L637.3 69.4L637.5 70.9L637.8 72.4L638.0 73.8L638.3 75.3L638.5 76.8L638.8 78.3L639.0 79.7L639.2 81.2L639.5 82.7L639.7 84.2L639.9 85.7L640.1 87.1L640.4 88.6L640.6 90.1L640.8 91.6L641.0 93.1L641.2 94.6L641.4 96.1L641.6 97.5L641.9 99.0L642.1 100.5L642.3 102.0L642.5 103.5L642.7 105.0L642.9 106.5L643.2 108.0L643.4 109.5L643.6 111.0L643.8 112.4L644.1 113.9L644.3 115.4L644.5 116.9L644.8 118.4L645.0 119.9L645.3 121.4L645.5 122.8L645.8 124.3L646.1 125.8L646.3 127.3L646.6 128.8L646.9 130.2L647.2 131.7L647.5 133.2L647.8 134.7L648.2 136.1L648.5 137.6L648.8 139.0L649.2 140.5L649.5 142.0L649.9 143.4L650.3 144.9L650.7 146.3L651.1 147.8L651.5 149.2L651.9 150.6L652.3 152.1L652.8 153.5" stroke="#ff0000"/>
</g>
<path d="M117.68 344.85v-3.0M117.68 5.3v3.0M126.20 344.85v-3.0M126.20 5.3v3.0M133.57 344.85v-3.0M133.57 5.3v3.0M140.08 344.85v-3.0M140.08 5.3v3.0M145.90 344.85v-5.4M145.90 5.3v5.4M184.19 344.85v-3.0M184.19 5.3v3.0M206.59 344.85v-3.0M206.59 5.3v3.0M222.48 344.85v-3.0M222.48 5.3v3.0M234.80 344.85v-3.0M234.80 5.3v3.0M244.87 344.85v-3.0M244.87 5.3v3.0M253.39 344.85v-3.0M253.39 5.3v3.0M260.76 344.85v-3.0M260.76 5.3v3.0M267.27 344.85v-3.0M267.27 5.3v3.0M273.09 344.85v-5.4M273.09 5.3v5.4M311.38 344.85v-3.0M311.38 5.3v3.0M333.78 344.85v-3.0M333.78 5.3v3.0M349.67 344.85v-3.0M349.67 5.3v3.0M361.99 344.85v-3.0M361.99 5.3v3.0M372.06 344.85v-3.0M372.06 5.3v3.0M380.58 344.85v-3.0M380.58 5.3v3.0M387.95 344.85v-3.0M387.95 5.3v3.0M394.46 344.85v-3.0M394.46 5.3v3.0M400.28 344.85v-5.4M400.28 5.3v5.4M438.57 344.85v-3.0M438.57 5.3v3.0M460.97 344.85v-3.0M460.97 5.3v3.0M476.86 344.85v-3.0M476.86 5.3v3.0M489.18 344.85v-3.0M489.18 5.3v3.0M499.25 344.85v-3.0M499.25 5.3v3.0M507.77 344.85v-3.0M507.77 5.3v3.0M515.14 344.85v-3.0M515.14 5.3v3.0M521.65 344.85v-3.0M521.65 5.3v3.0M527.47 344.85v-5.4M527.47 5.3v5.4M565.76 344.85v-3.0M565.76 5.3v3.0M588.16 344.85v-3.0M588.16 5.3v3.0M604.05 344.85v-3.0M604.05 5.3v3.0M616.37 344.85v-3.0M616.37 5.3v3.0M626.44 344.85v-3.0M626.44 5.3v3.0M634.96 344.85v-3.0M634.96 5.3v3.0M642.33 344.85v-3.0M642.33 5.3v3.0M648.84 344.85v-3.0M648.84 5.3v3.0M654.66 344.85v-5.4M654.66 5.3v5.4M113.65 343.73h3.0M663.45 343.73h-3.0M113.65 335.07h3.0M663.45 335.07h-3.0M113.65 326.42h5.4M663.45 326.42h-5.4M113.65 317.77h3.0M663.45 317.77h-3.0M113.65 309.11h3.0M663.45 309.11h-3.0M113.65 300.46h3.0M663.45 300.46h-3.0M113.65 291.80h3.0M663.45 291.80h-3.0M113.65 283.15h5.4M663.45 283.15h-5.4M113.65 274.50h3.0M663.45 274.50h-3.0M113.65 265.84h3.0M663.45 265.84h-3.0M113.65 257.19h3.0M663.45 257.19h-3.0M113.65 248.53h3.0M663.45 248.53h-3.0M113.65 239.88h5.4M663.45 239.88h-5.4M113.65 231.23h3.0M663.45 231.23h-3.0M113.65 222.57h3.0M663.45 222.57h-3.0M113.65 213.92h3.0M663.45 213.92h-3.0M113.65 205.26h3.0M663.45 205.26h-3.0M113.65 196.61h5.4M663.45 196.61h-5.4M113.65 187.96h3.0M663.45 187.96h-3.0M113.65 179.30h3.0M663.45 179.30h-3.0M113.65 170.65h3.0M663.45 170.65h-3.0M113.65 161.99h3.0M663.45 161.99h-3.0M113.65 153.34h5.4M663.45 153.34h-5.4M113.65 144.69h3.0M663.45 144.69h-3.0M113.65 136.03h3.0M663.45 136.03h-3.0M113.65 127.38h3.0M663.45 127.38h-3.0M113.65 118.72h3.0M663.45 118.72h-3.0M113.65 110.07h5.4M663.45 110.07h-5.4M113.65 101.42h3.0M663.45 101.42h-3.0M113.65 92.76h3.0M663.45 92.76h-3.0M113.65 84.11h3.0M663.45 84.11h-3.0M113.65 75.45h3.0M663.45 75.45h-3.0M113.65 66.80h5.4M663.45 66.80h-5.4M113.65 58.15h3.0M663.45 58.15h-3.0M113.65 49.49h3.0M663.45 49.49h-3.0M113.65 40.84h3.0M663.45 40.84h-3.0M113.65 32.18h3.0M663.45 32.18h-3.0M113.65 23.53h5.4M663.45 23.53h-5.4M113.65 14.88h3.0M663.45 14.88h-3.0M113.65 6.22h3.0M663.45 6.22h-3.0" stroke="#6b6b6b" stroke-width="1" fill="none"/>
<rect x="113.65" y="5.3" width="549.8000000000001" height="339.55" fill="none" stroke="#6b6b6b" stroke-width="1.1"/>
<g style="filter:grayscale(1)">
<text x="108.1" y="330.72" font-size="18.3" text-anchor="end">0.0004</text>
<line x1="38.8" x2="48.9" y1="325.12" y2="325.12" stroke="#5e5e5e" stroke-width="1.35"/>
<text x="108.1" y="287.45" font-size="18.3" text-anchor="end">0.0003</text>
<line x1="38.8" x2="48.9" y1="281.85" y2="281.85" stroke="#5e5e5e" stroke-width="1.35"/>
<text x="108.1" y="244.18" font-size="18.3" text-anchor="end">0.0002</text>
<line x1="38.8" x2="48.9" y1="238.58" y2="238.58" stroke="#5e5e5e" stroke-width="1.35"/>
<text x="108.1" y="200.91" font-size="18.3" text-anchor="end">0.0001</text>
<line x1="38.8" x2="48.9" y1="195.31" y2="195.31" stroke="#5e5e5e" stroke-width="1.35"/>
<text x="108.1" y="157.64" font-size="18.3" text-anchor="end">0.0000</text>
<text x="108.1" y="114.37" font-size="18.3" text-anchor="end">0.0001</text>
<text x="108.1" y="71.10" font-size="18.3" text-anchor="end">0.0002</text>
<text x="108.1" y="27.83" font-size="18.3" text-anchor="end">0.0003</text>
<text x="272.29" y="364.7" font-size="18.5" text-anchor="middle">0.001</text>
<text x="400.28" y="364.7" font-size="18.5" text-anchor="middle">0.010</text>
<text x="527.47" y="364.7" font-size="18.5" text-anchor="middle">0.100</text>
<text x="653.86" y="364.7" font-size="18.5" text-anchor="middle">1</text>
<text x="125.2" y="371.9" font-size="18.5">10</text>
<line x1="146.3" x2="154.9" y1="359.3" y2="359.3" stroke="#5e5e5e" stroke-width="1.2"/>
<text x="156.8" y="364.1" font-size="16">4</text>
<text x="388.9" y="400.4" font-size="18.5" font-style="italic" text-anchor="middle">x</text>
<text transform="translate(19.7 192.7) rotate(-90) scale(0.82 1)" font-size="18.5">x</text>
<text transform="translate(19.7 184.5) rotate(-90)" font-size="18.5">g</text>
<text transform="translate(27.1 174.4) rotate(-90)" font-size="16">2</text>
<text transform="translate(11.4 174.5) rotate(-90)" font-size="16">cc</text>
</g>
</svg></body></html>
